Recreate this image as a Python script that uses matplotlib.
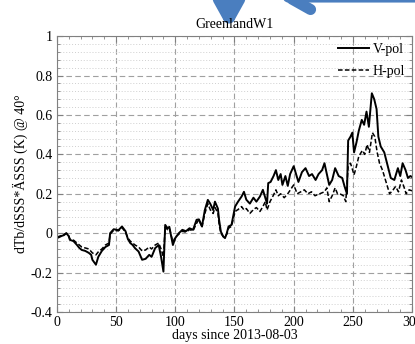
import matplotlib
matplotlib.use("Agg")
import matplotlib.pyplot as plt
from matplotlib.ticker import MultipleLocator

plt.rcParams['font.family'] = ['Liberation Serif', 'DejaVu Serif']
plt.rcParams['font.size'] = 10

# V-pol sensitivity
v_days = [0, 2, 4, 6, 8, 10, 11, 14, 17, 19, 21, 24, 27, 29, 30, 33, 35, 37, 38, 41,
          44, 45, 48, 50, 52, 55, 58, 60, 62, 64, 66, 69, 72, 75, 78, 80, 83, 86, 88, 90,
          91.5, 93.5, 95, 98, 100, 103, 106, 109, 112, 115, 118, 120, 122.5, 125, 127.5,
          129.5, 132, 133.5, 136, 137, 138.5, 140.5, 142, 143.5, 145, 147.5, 150.5, 153,
          156, 158, 160, 163, 166, 168.5, 171.5, 174, 176, 177.5, 178.5, 180.5, 183, 185,
          187, 189, 190.5, 193, 195, 197, 200, 202, 204, 207, 210, 213, 215.5, 218.5, 221,
          224, 226, 228, 230, 232.5, 235, 238, 241, 243, 245, 246, 248, 249.5, 251, 253,
          255, 257.5, 259.5, 261.5, 263.5, 266, 268, 270, 271.5, 273.5, 276.5, 279, 282,
          285, 288, 290, 292, 294.5, 296.5, 298.5, 300]
v_pol = [-0.025, -0.02, -0.014, -0.01, 0.0, -0.015, -0.034, -0.04, -0.06, -0.075, -0.085,
         -0.09, -0.10, -0.11, -0.135, -0.16, -0.12, -0.10, -0.09, -0.07, -0.06, 0.0, 0.02,
         0.018, 0.015, 0.034, 0.01, -0.03, -0.05, -0.06, -0.076, -0.093, -0.135, -0.13,
         -0.11, -0.12, -0.076, -0.06, -0.12, -0.195, 0.042, 0.025, 0.032, -0.06, -0.025,
         0.0, 0.017, 0.01, 0.025, 0.017, 0.068, 0.07, 0.034, 0.118, 0.169, 0.15, 0.118,
         0.16, 0.125, 0.068, 0.008, -0.017, -0.025, 0.0, 0.034, 0.042, 0.135, 0.16, 0.186,
         0.21, 0.17, 0.15, 0.18, 0.16, 0.186, 0.22, 0.18, 0.15, 0.254, 0.26, 0.29, 0.32,
         0.27, 0.30, 0.245, 0.29, 0.24, 0.30, 0.34, 0.30, 0.26, 0.31, 0.33, 0.29, 0.30,
         0.27, 0.30, 0.32, 0.355, 0.30, 0.245, 0.27, 0.33, 0.29, 0.28, 0.237, 0.20, 0.47,
         0.49, 0.51, 0.41, 0.46, 0.52, 0.575, 0.55, 0.617, 0.54, 0.71, 0.68, 0.63, 0.49,
         0.44, 0.41, 0.35, 0.28, 0.27, 0.33, 0.29, 0.355, 0.32, 0.28, 0.29, 0.285]

# H-pol sensitivity
h_days = [0, 4, 8, 10, 11, 14, 17, 21, 24, 27, 30, 33, 35, 38, 41, 44, 45, 48, 52, 55,
          58, 60, 62, 64, 66, 69, 72, 75, 78, 80, 83, 86, 88, 90, 91.5, 93.5, 95, 98, 100,
          103, 106, 109, 112, 115, 118, 120, 122.5, 125, 127.5, 129.5, 132, 133.5, 136,
          137, 138.5, 140.5, 142, 143.5, 145, 147.5, 150.5, 153, 156, 158, 160, 163, 166,
          168.5, 171.5, 174, 176, 177.5, 180, 183, 185, 187, 189, 192, 195, 200, 203, 206,
          209, 212, 215, 218, 222, 226, 228, 230, 232.5, 235, 237, 239, 242, 244, 246,
          248, 251, 253, 255, 258, 260, 262, 264, 266.5, 268.5, 270.5, 272.5, 275, 277.5,
          281, 284, 286, 288.5, 291, 293, 295, 297.5, 300]
h_pol = [-0.02, -0.012, 0.0, -0.012, -0.03, -0.035, -0.05, -0.07, -0.075, -0.08, -0.10,
         -0.11, -0.095, -0.08, -0.06, -0.05, -0.005, 0.015, 0.012, 0.028, 0.005, -0.025,
         -0.04, -0.05, -0.06, -0.07, -0.09, -0.085, -0.07, -0.08, -0.06, -0.05, -0.08,
         -0.12, 0.03, 0.018, 0.025, -0.045, -0.02, -0.005, 0.01, 0.005, 0.018, 0.012, 0.05,
         0.07, 0.03, 0.10, 0.15, 0.12, 0.10, 0.13, 0.105, 0.045, 0.0, -0.017, -0.02,
         -0.005, 0.025, 0.035, 0.11, 0.12, 0.135, 0.118, 0.125, 0.10, 0.12, 0.13, 0.11,
         0.135, 0.16, 0.118, 0.16, 0.194, 0.22, 0.19, 0.20, 0.18, 0.20, 0.245, 0.20, 0.21,
         0.22, 0.20, 0.21, 0.19, 0.20, 0.21, 0.23, 0.16, 0.19, 0.23, 0.20, 0.20, 0.19,
         0.16, 0.34, 0.355, 0.296, 0.34, 0.39, 0.42, 0.40, 0.45, 0.41, 0.51, 0.49, 0.41,
         0.355, 0.32, 0.27, 0.20, 0.22, 0.237, 0.21, 0.27, 0.237, 0.20, 0.22, 0.215]

fig = plt.figure(figsize=(4.15, 3.44), dpi=100)
ax = fig.add_axes([0.137, 0.093, 0.856, 0.802])

ax.plot(v_days, v_pol, color='black', lw=1.4, label='V-pol')
ax.plot(h_days, h_pol, color='black', lw=1.1, ls=(0, (3, 1.5)), label='H-pol')

ax.set_xlim(0, 300)
ax.set_ylim(-0.4, 1)
ax.xaxis.set_major_locator(MultipleLocator(50))
ax.xaxis.set_minor_locator(MultipleLocator(10))
ax.yaxis.set_major_locator(MultipleLocator(0.2))
ax.yaxis.set_minor_locator(MultipleLocator(0.04))
ax.set_yticks([-0.4, -0.2, 0, 0.2, 0.4, 0.6, 0.8, 1])
ax.set_yticklabels(['-0.4', '-0.2', '0', '0.2', '0.4', '0.6', '0.8', '1'])

# dashed major grid, dotted minor lines only across y
ax.grid(which='major', color='#a0a0a0', ls=(0, (5, 3)), lw=0.8)
ax.yaxis.grid(which='minor', color='#cfcfcf', ls=(0, (1, 2)), lw=0.7)
ax.set_axisbelow(True)
ax.tick_params(which='both', direction='in', top=True, right=True, color='#808080')
ax.tick_params(which='major', length=4)
ax.tick_params(which='minor', length=2)
ax.tick_params(axis='both', pad=3)
for s in ax.spines.values():
    s.set_color('#808080')

ax.set_xlabel('days since 2013-08-03', labelpad=0)
ax.set_ylabel('dTb/dSSS*ÄSSS (K) @ 40°', labelpad=2)
ax.set_title('GreenlandW1', fontsize=10, pad=6)

ax.legend(loc='upper right', frameon=False, handlelength=2.2, handletextpad=0.3,
          labelspacing=0.65, borderaxespad=0.1)

# blue callout arrows at the top
blue = '#4a7ebf'
ax.annotate('', xy=(229, 314), xytext=(229, 352), xycoords='figure pixels',
            textcoords='figure pixels', annotation_clip=False,
            arrowprops=dict(arrowstyle='->,head_length=1.8,head_width=1.0',
                            color=blue, lw=9, shrinkA=0, shrinkB=0))
ax.annotate('', xy=(277, 347), xytext=(440, 347), xycoords='figure pixels',
            textcoords='figure pixels', annotation_clip=False,
            arrowprops=dict(arrowstyle='->,head_length=1.6,head_width=0.9',
                            color=blue, lw=8, shrinkA=0, shrinkB=0))

fig.savefig('out.png', dpi=100)
